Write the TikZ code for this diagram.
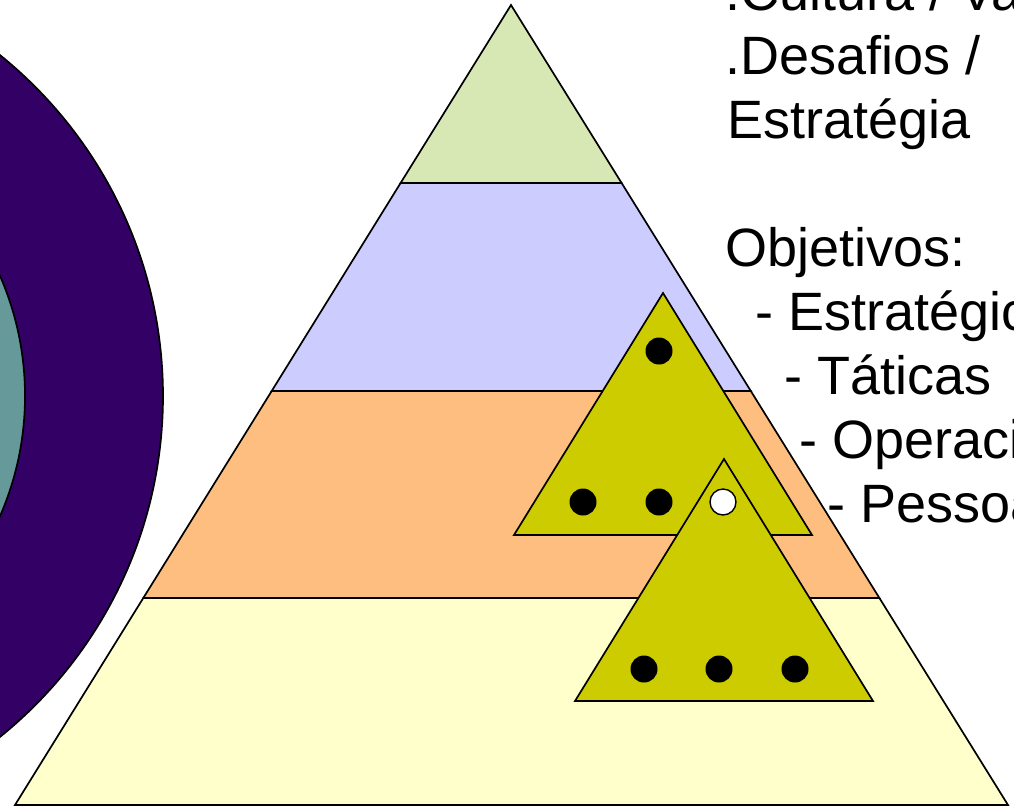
\documentclass[tikz,border=0pt]{standalone}
\usepackage{fontspec}
\setmainfont{Liberation Sans}
\usepackage{tikz}
\definecolor{ringpurple}{HTML}{330066}
\definecolor{ringteal}{HTML}{669999}
\definecolor{levelgreen}{HTML}{D7E8B5}
\definecolor{levelblue}{HTML}{CCCCFF}
\definecolor{levelorange}{HTML}{FDBE80}
\definecolor{levelyellow}{HTML}{FFFFCC}
\definecolor{teamolive}{HTML}{CCCC00}
\tikzset{
  outline/.style={
    draw=black,
    line width=1.7pt,
    line join=miter
  },
  level/.style={
    outline,
    fill=#1
  },
  teamtri/.style={
    outline,
    fill=teamolive
  },
  member/.style={
    circle,
    fill=black,
    inner sep=0pt,
    minimum size=27pt
  },
  leader/.style={
    member,
    draw=black,
    line width=1.4pt,
    fill=white,
    minimum size=26pt
  },
  sidetext/.style={
    anchor=base west,
    inner sep=0pt,
    font=\fontsize{54}{64}\selectfont
  }
}

\begin{document}
\begin{tikzpicture}[x=1pt,y=-1pt]
    \useasboundingbox (0,0) rectangle (1014,807);
    \clip (0,0) rectangle (1014,807);

    % rings on the left
    \coordinate (ringc) at (-275,396);
    \draw[outline,fill=ringpurple] (ringc) circle[radius=438pt];
    \draw[outline,fill=ringteal] (ringc) circle[radius=300pt];

    % pyramid levels
    \coordinate (apex) at (511,5);
    \coordinate (l1) at (400.6,183);  \coordinate (r1) at (621.6,183);
    \coordinate (l2) at (271.7,391);  \coordinate (r2) at (750.8,391);
    \coordinate (l3) at (143.3,598);  \coordinate (r3) at (879.4,598);
    \coordinate (l4) at (15,805);     \coordinate (r4) at (1008,805);
    \draw[level=levelgreen] (apex) -- (r1) -- (l1) -- cycle;
    \draw[level=levelblue] (l1) -- (r1) -- (r2) -- (l2) -- cycle;
    \draw[level=levelorange] (l2) -- (r2) -- (r3) -- (l3) -- cycle;
    \draw[level=levelyellow] (l3) -- (r3) -- (r4) -- (l4) -- cycle;

    % teams
    \draw[teamtri] (663,293) -- (812,535) -- (514,535) -- cycle;
    \node[member] (m1) at (659,351) {};
    \node[member] (m2) at (583,502) {};
    \node[member] (m3) at (659,502) {};
    \draw[teamtri] (724,459) -- (873,701) -- (575,701) -- cycle;
    \node[leader] (lead) at (723,502) {};
    \node[member] (m4) at (644,669) {};
    \node[member] (m5) at (719,669) {};
    \node[member] (m6) at (795,669) {};

    \node[sidetext] (cultura) at (725,10) {.Cultura / Valores};
    \node[sidetext] (desafios) at (725,74) {.Desafios /};
    \node[sidetext] (estrategia) at (727,138) {Estratégia};
    \node[sidetext] (objetivos) at (725,266) {Objetivos:};
    \node[sidetext] (estrategicos) at (755.5,330) {- Estratégicos};
    \node[sidetext] (taticas) at (784.5,394) {- Táticas};
    \node[sidetext] (operacionais) at (799.5,458) {- Operacionais};
    \node[sidetext] (pessoais) at (827.5,522) {- Pessoais};
\end{tikzpicture}
\end{document}
